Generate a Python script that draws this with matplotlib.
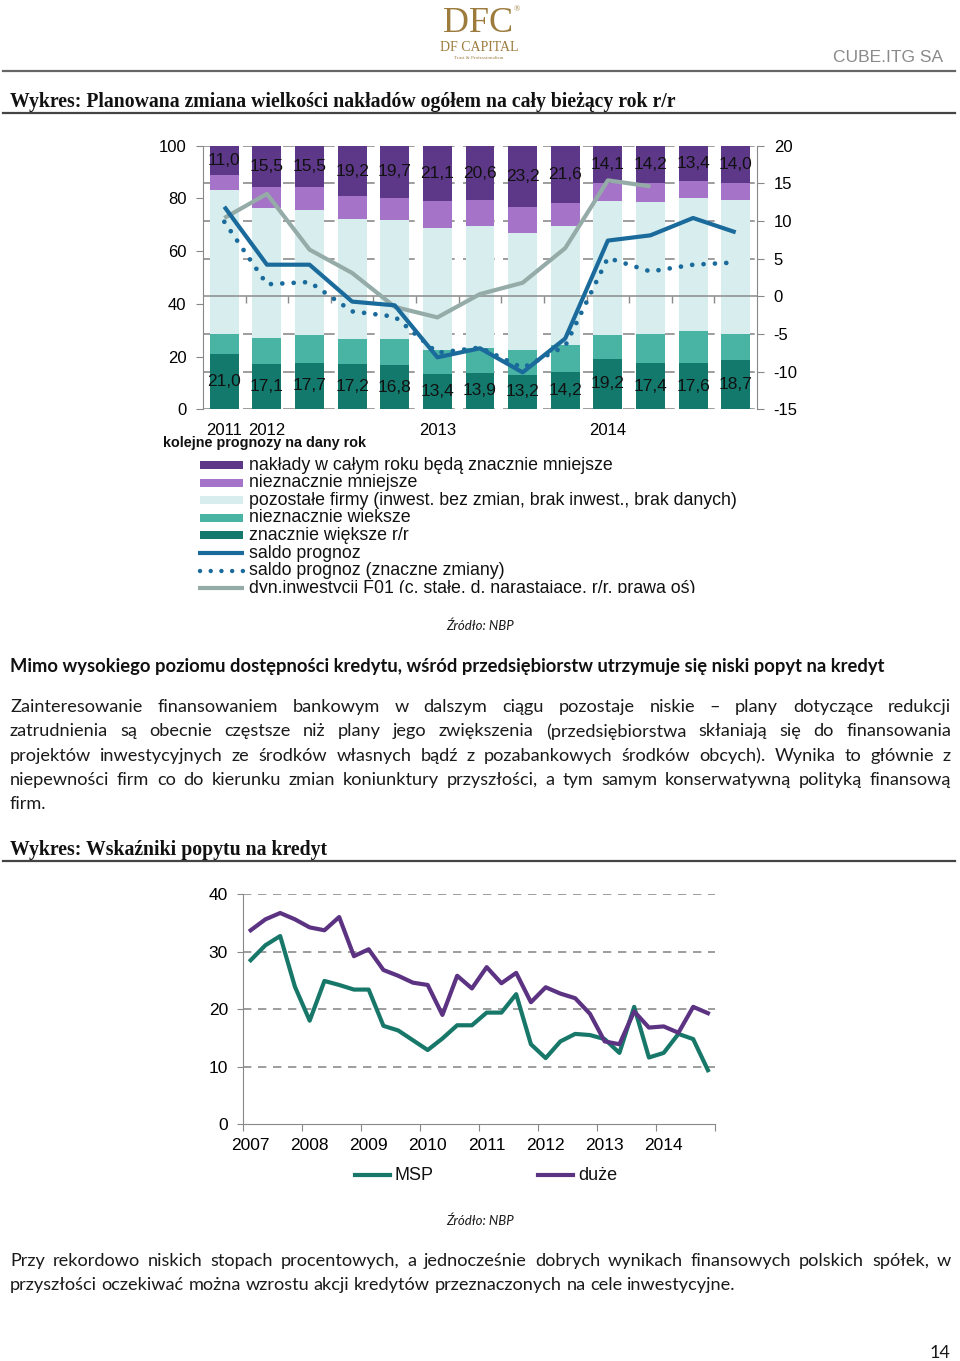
import numpy as np
import matplotlib
matplotlib.use('Agg')
import matplotlib.pyplot as plt
from matplotlib import font_manager
from matplotlib.patches import Rectangle
from matplotlib.transforms import Bbox

plt.rcParams['axes.unicode_minus'] = False

# --- dane: wykres 1 (kolejne prognozy na dany rok) ---
prognoza_lab = ['2011', '2012', '', '', '', '2013', '', '', '', '2014', '', '', '']
znacznie_mniejsze = [11.0, 15.5, 15.5, 19.2, 19.7, 21.1, 20.6, 23.2, 21.6, 14.1, 14.2, 13.4, 14.0]
nieznacznie_mniejsze = [5.9, 8.0, 8.9, 8.7, 8.6, 10.3, 9.8, 10.1, 8.7, 7.0, 7.0, 6.4, 6.6]
pozostale = [54.5, 49.3, 47.3, 45.4, 44.9, 46.0, 46.4, 44.2, 45.3, 50.6, 50.2, 50.6, 50.8]
nieznacznie_wieksze = [7.6, 10.1, 10.6, 9.5, 10.0, 9.2, 9.2, 9.3, 10.2, 9.1, 11.2, 12.0, 9.9]
znacznie_wieksze = [21.0, 17.1, 17.7, 17.2, 16.8, 13.4, 13.9, 13.2, 14.2, 19.2, 17.4, 17.6, 18.7]
saldo = [11.9, 4.2, 4.2, -0.7, -1.2, -8.1, -6.9, -10.1, -5.6, 7.4, 8.1, 10.4, 8.5]
saldo_znaczne = [9.9, 1.6, 1.9, -2.0, -2.7, -7.5, -6.8, -9.5, -6.6, 5.1, 3.3, 4.2, 4.5]
dyn_f01 = [10.4, 13.6, 6.2, 3.1, -1.4, -2.8, 0.3, 1.8, 6.4, 15.4, 14.6, np.nan, np.nan]
lewa_ticks = [0, 20, 40, 60, 80, 100]
prawa_ticks = [-15, -10, -5, 0, 5, 10, 15, 20]

# --- dane: wykres 2 (wskazniki popytu na kredyt, kwartalnie 2007-2014) ---
lata = ['2007', '2008', '2009', '2010', '2011', '2012', '2013', '2014']
msp = [28.5, 31.1, 32.7, 23.9, 18.0, 24.9, 24.2, 23.4, 23.4, 17.1, 16.3, 14.6,
       12.9, 14.9, 17.2, 17.2, 19.4, 19.4, 22.6, 13.9, 11.5, 14.4, 15.7, 15.5,
       14.8, 12.4, 20.4, 11.6, 12.4, 15.7, 14.8, 9.4]
duze = [33.7, 35.6, 36.7, 35.6, 34.2, 33.7, 36.0, 29.2, 30.4, 26.8, 25.8, 24.6,
        24.2, 19.0, 25.8, 23.6, 27.3, 24.5, 26.3, 21.2, 23.8, 22.7, 21.9, 19.2,
        14.4, 13.9, 19.6, 16.8, 17.0, 15.9, 20.4, 19.3]

# kolory
c_zm = '#5d3788'
c_nm = '#a574c9'
c_poz = '#d8eeee'
c_nw = '#49b4a4'
c_zw = '#13796c'
c_saldo = '#1a6b9c'
c_f01 = '#94aba7'
c_msp = '#17786a'
c_duze = '#5c3382'
c_grid = '#8c8c8c'
c_gold = '#9c7b3c'

names = {f.name for f in font_manager.fontManager.ttflist}
narrow = 'Liberation Sans Narrow' if 'Liberation Sans Narrow' in names else 'Liberation Sans'
arial = 'Liberation Sans'
body = 'Lato'

W, H = 960, 1361
fig = plt.figure(figsize=(W / 100, H / 100), dpi=100)
bg = fig.add_axes([0, 0, 1, 1])
bg.set_xlim(0, W)
bg.set_ylim(H, 0)
bg.axis('off')
renderer = fig.canvas.get_renderer()


def rect(x0, y0, x1, y1):
    return [x0 / W, 1 - y1 / H, (x1 - x0) / W, (y1 - y0) / H]


def fit_size(s, target, family, **kw):
    t = bg.text(0, 0, s, fontsize=10, family=family, **kw)
    w = t.get_window_extent(renderer).width
    t.remove()
    return 10 * target / w


def justify(line, y, size, x0=10, x1=951, last=False):
    words = line.split()
    arts = [bg.text(0, y, w, fontsize=size, family=body, va='center', color='#1a1a1a')
            for w in words]
    widths = [a.get_window_extent(renderer).width for a in arts]
    if last or len(words) == 1:
        sp = bg.text(0, 0, 'a a', fontsize=size, family=body)
        sa = bg.text(0, 0, 'aa', fontsize=size, family=body)
        gap = sp.get_window_extent(renderer).width - sa.get_window_extent(renderer).width
        sp.remove(); sa.remove()
    else:
        gap = (x1 - x0 - sum(widths)) / (len(words) - 1)
    x = x0
    for a, w in zip(arts, widths):
        a.set_x(x)
        x += w + gap


# --- naglowek strony ---
bg.text(478, 32, 'DFC', fontsize=fit_size('DFC', 70, 'Liberation Serif'),
        family='Liberation Serif', color=c_gold, ha='center', va='baseline')
bg.text(514, 9, '®', fontsize=6, family='Liberation Serif', color=c_gold, ha='left', va='center')
bg.text(479, 47, 'DF CAPITAL', fontsize=10, family='Liberation Serif', color=c_gold,
        ha='center', va='center')
bg.text(479, 58, 'Trust & Professionalism', fontsize=3.6, family='Liberation Serif',
        color=c_gold, ha='center', va='center')
bg.text(943, 57, 'CUBE.ITG SA', fontsize=12.5, family=narrow, color='#8a8a8a',
        ha='right', va='center')
bg.plot([3, 955], [71, 71], color='#666666', lw=1.6)

s1 = 'Wykres: Planowana zmiana wielkości nakładów ogółem na cały bieżący rok r/r'
title_size = fit_size(s1, 667, 'Liberation Serif', weight='bold')
bg.text(10, 102, s1, fontsize=title_size, family='Liberation Serif', weight='bold',
        va='center', color='#111111')
bg.plot([3, 955], [113, 113], color='#444444', lw=1.6)

# --- wykres 1 ---
ax = fig.add_axes(rect(203, 145.7, 757, 409.3))
x = np.arange(len(znacznie_wieksze))
seg = [(znacznie_wieksze, c_zw), (nieznacznie_wieksze, c_nw), (pozostale, c_poz),
       (nieznacznie_mniejsze, c_nm), (znacznie_mniejsze, c_zm)]
bottom = np.zeros(len(x))
conts = []
for vals, col in seg:
    conts.append(ax.bar(x, vals, 0.68, bottom=bottom, color=col, zorder=2))
    bottom = bottom + np.array(vals)
for c, vals in [(conts[0], znacznie_wieksze), (conts[4], znacznie_mniejsze)]:
    ax.bar_label(c, labels=[f'{v:.1f}'.replace('.', ',') for v in vals], label_type='center',
                 fontsize=12.5, family=arial, color='#111111', zorder=5)
ax.set_xlim(-0.5, len(x) - 0.5)
ax.set_ylim(0, 100)
r_lo, r_hi = prawa_ticks[0], prawa_ticks[-1]
for r in prawa_ticks:
    if r != 0:
        ax.axhline((r - r_lo) / (r_hi - r_lo) * 100, color=c_grid, lw=1.2,
                   dashes=(7, 5), zorder=0.5)
ax.set_yticks(lewa_ticks)
ax.set_xticks(x)
ax.set_xticklabels(prognoza_lab)
ax.tick_params(axis='y', direction='out', length=5, color='#888888', labelsize=12, pad=7)
ax.tick_params(axis='x', length=0, labelsize=12, pad=10)
for lab in ax.get_xticklabels() + ax.get_yticklabels():
    lab.set_family(arial)
for s in ['top', 'bottom', 'right']:
    ax.spines[s].set_visible(False)
ax.spines['left'].set_color('#888888')

ax2 = ax.twinx()
ax2.set_ylim(r_lo, r_hi)
ax2.set_yticks(prawa_ticks)
ax2.axhline(0, color='#8a8a8a', lw=1.1, zorder=1)
ax2.plot(x[:-1] + 0.5, np.zeros(len(x) - 1), ls='none', marker=3, ms=5, mew=1,
         color='#8a8a8a')
ax2.plot(x, dyn_f01, color=c_f01, lw=3, solid_capstyle='butt', zorder=3)
ax2.plot(x, saldo, color=c_saldo, lw=3, solid_capstyle='butt', zorder=4)
ax2.plot(x, saldo_znaczne, color=c_saldo, lw=3.4, dashes=(0.01, 2.4),
         dash_capstyle='round', zorder=4)
ax2.tick_params(axis='y', direction='out', length=5, color='#888888', labelsize=12, pad=7)
for lab in ax2.get_yticklabels():
    lab.set_family(arial)
for s in ['top', 'bottom', 'left']:
    ax2.spines[s].set_visible(False)
ax2.spines['right'].set_color('#888888')

s2 = 'kolejne prognozy na dany rok'
bg.text(163, 443, s2, fontsize=fit_size(s2, 204, arial, weight='bold'), family=arial,
        weight='bold', va='center', color='#111111')

# legenda wykresu 1
leg = [('bar', c_zm, 'nakłady w całym roku będą znacznie mniejsze'),
       ('bar', c_nm, 'nieznacznie mniejsze'),
       ('bar', c_poz, 'pozostałe firmy (inwest. bez zmian, brak inwest., brak danych)'),
       ('bar', c_nw, 'nieznacznie wieksze'),
       ('bar', c_zw, 'znacznie większe r/r'),
       ('line', c_saldo, 'saldo prognoz'),
       ('dot', c_saldo, 'saldo prognoz (znaczne zmiany)'),
       ('line', c_f01, 'dyn.inwestycji F01 (c. stałe, d. narastające, r/r, prawa oś)')]
leg_size = fit_size(leg[2][2], 489, arial)
clip = Bbox([[0, H - 593], [W, H]])
for i, (kind, col, lab) in enumerate(leg):
    yy = 465 + i * 17.6
    if kind == 'bar':
        bg.add_patch(Rectangle((200, yy - 4), 43, 8, color=col, lw=0))
    elif kind == 'line':
        bg.plot([198, 244], [yy, yy], color=col, lw=3, solid_capstyle='butt')
    else:
        bg.plot([200, 243], [yy, yy], color=col, lw=3.2, dashes=(0.01, 2.4),
                dash_capstyle='round')
    t = bg.text(249, yy, lab, fontsize=leg_size, family=arial, va='center', color='#111111')
    t.set_clip_box(clip)
    t.set_clip_on(True)

bg.text(480, 626, 'Źródło: NBP', fontsize=9.5, family=body, style='italic',
        ha='center', va='center', color='#1a1a1a')

# --- tekst ---
h1 = ('Mimo wysokiego poziomu dostępności kredytu, wśród przedsiębiorstw utrzymuje się '
      'niski popyt na kredyt')
bg.text(10, 666, h1, fontsize=fit_size(h1, 876, body, weight='bold'), family=body,
        weight='bold', va='center', color='#111111')

ref_line = 'przyszłości oczekiwać można wzrostu akcji kredytów przeznaczonych na cele inwestycyjne.'
body_size = fit_size(ref_line, 728, body)
para1 = ['Zainteresowanie finansowaniem bankowym w dalszym ciągu pozostaje niskie – plany dotyczące redukcji',
         'zatrudnienia są obecnie częstsze niż plany jego zwiększenia (przedsiębiorstwa skłaniają się do finansowania',
         'projektów inwestycyjnych ze środków własnych bądź z pozabankowych środków obcych). Wynika to głównie z',
         'niepewności firm co do kierunku zmian koniunktury  przyszłości, a tym samym konserwatywną polityką finansową',
         'firm.']
for i, line in enumerate(para1):
    justify(line, 707 + i * 24.3, body_size, last=(i == len(para1) - 1))

s3 = 'Wykres: Wskaźniki popytu na kredyt'
bg.text(10, 850, s3, fontsize=title_size, family='Liberation Serif', weight='bold',
        va='center', color='#111111')
bg.plot([3, 955], [861, 861], color='#444444', lw=1.6)

# --- wykres 2 ---
ax3 = fig.add_axes(rect(243.3, 894, 715.3, 1124.3))
q = np.arange(len(msp)) + 0.5
for yv in [10, 20, 30, 40]:
    ax3.axhline(yv, color=c_grid, lw=1.2, dashes=(5, 4), zorder=0.5)
ax3.plot(q, msp, color=c_msp, lw=3, zorder=3)
ax3.plot(q, duze, color=c_duze, lw=3, zorder=3)
ax3.set_xlim(0, len(msp))
ax3.set_ylim(0, 40)
ax3.set_yticks([0, 10, 20, 30, 40])
ax3.set_xticks(np.arange(0, len(msp) + 1, 4))
ax3.set_xticklabels([])
ax3.set_xticks(np.arange(len(lata)) * 4 + 0.5, minor=True)
ax3.set_xticklabels(lata, minor=True)
ax3.tick_params(axis='x', which='major', direction='out', length=5, color='#888888')
ax3.tick_params(axis='x', which='minor', length=0, labelsize=12.5, pad=10)
ax3.tick_params(axis='y', direction='out', length=4, color='#888888', labelsize=12.5, pad=7)
for lab in ax3.get_xticklabels(minor=True) + ax3.get_yticklabels():
    lab.set_family(arial)
for s in ['top', 'right']:
    ax3.spines[s].set_visible(False)
for s in ['left', 'bottom']:
    ax3.spines[s].set_color('#888888')

bg.plot([355, 390], [1175, 1175], color=c_msp, lw=3)
bg.text(394, 1175, 'MSP', fontsize=13, family=arial, va='center', color='#111111')
bg.plot([538, 573], [1175, 1175], color=c_duze, lw=3)
bg.text(578, 1175, 'duże', fontsize=13, family=arial, va='center', color='#111111')

bg.text(480, 1221, 'Źródło: NBP', fontsize=9.5, family=body, style='italic',
        ha='center', va='center', color='#1a1a1a')

para2 = ['Przy rekordowo niskich stopach procentowych, a jednocześnie dobrych wynikach finansowych polskich spółek, w',
         ref_line]
for i, line in enumerate(para2):
    justify(line, 1261 + i * 24.3, body_size, last=(i == len(para2) - 1))

bg.text(950, 1353, '14', fontsize=13, family=body, ha='right', va='center', color='#1a1a1a')

fig.savefig('out.png', dpi=100)
